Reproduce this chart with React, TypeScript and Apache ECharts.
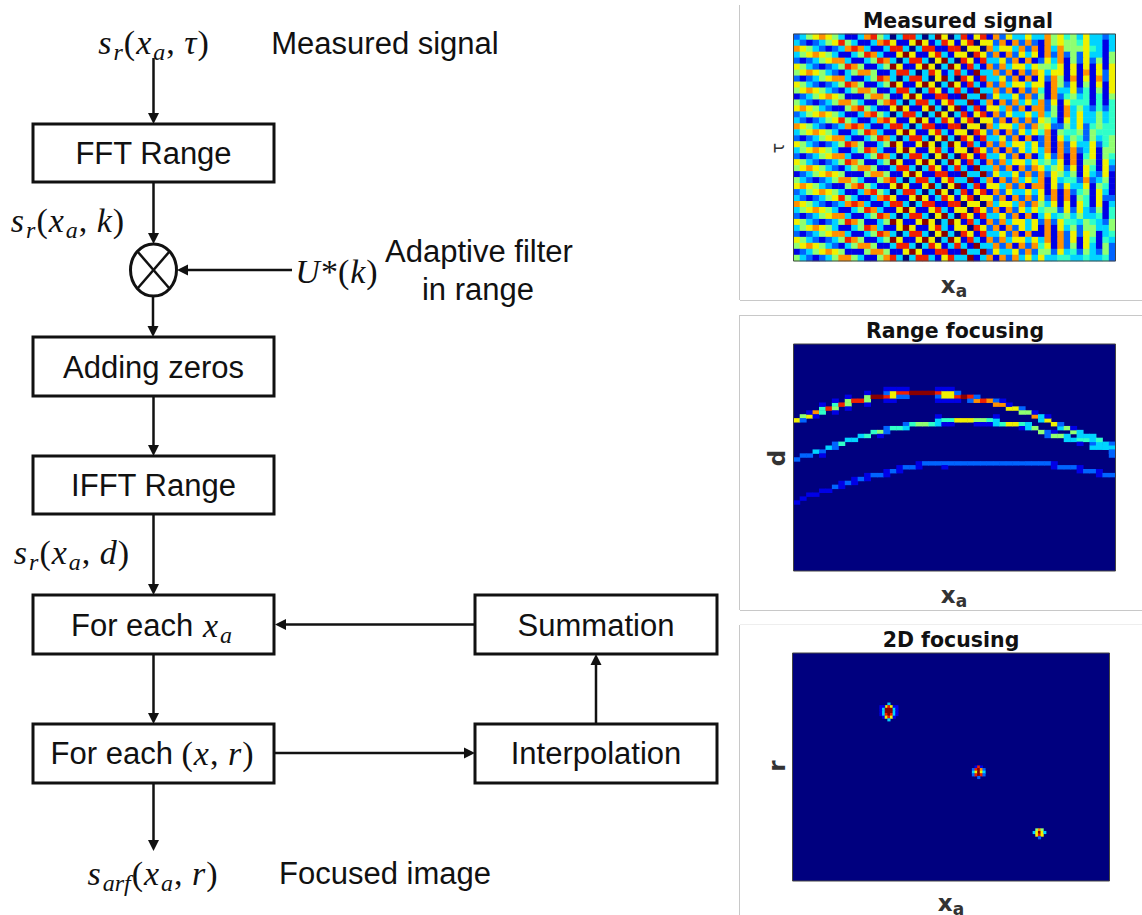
import React, { useEffect, useRef } from "react";
import * as echarts from "echarts";

const jetColors = ["#00007f", "#0000e6", "#0064ff", "#00d4ff", "#30ffc8", "#90ff70", "#f0f000", "#ff9000", "#f02000", "#8a0000"];

// Estimated jet level (0-9) per cell, one string per row, one digit per column
const measuredRows = [
  "23567653113785303883039603816817263363375645363323",
  "32123568531137861169613861680662717272175655463313",
  "76532123787311388303881188066073663727173755564313",
  "35676531135873116961168316608627172636172725263315",
  "21235677311358730388306930861833627171263715262515",
  "65321235875113596116960396183172736636554616161616",
  "56765321357751138830386138319337271727636616171626",
  "21235677311358730388306930861833627171627517161726",
  "65321235875113596116960396183172736636617526151616",
  "56765321357751138830386138319337271727417336241516",
  "12356765111577511696118811933926336272517245341415",
  "53212357753115783038831683391371727363726164441414",
  "67653211578531169611693069138166372717725173532424",
  "23567653113785303883039603816817263363735173633534",
  "32123568531137861169613861680662717272653163633534",
  "76532123787311388303881188066073663727562253624544",
  "35676531135873116961168316608627172636471544525444",
  "21235677311358730388306930861833627171271635425345",
  "65321235875113596116960396183172736636271726336245",
  "35676531135873116961168316608627172636371727236155",
  "21235677311358730388306930861833627171362717146154",
  "65321235875113596116960396183172736636453617155163",
  "56765321357751138830386138319337271727635626164162",
  "12356765111577511696118811933926336272726535163261",
  "53212357753115783038831683391371727363716344272351",
  "67653211578531169611693069138166372717716263361541",
  "23567653113785303883039603816817263363617172451631",
  "32123568531137861169613861680662717272627171541622",
  "76532123787311388303881188066073663727536161641613",
  "35676531135873116961168316608627172636455262632514",
  "21235677311358730388306930861833627171363453533414",
  "65321235875113596116960396183172736636272644354325",
  "35676531135873116961168316608627172636171635255335",
  "21235677311358730388306930861833627171171726265134",
  "65321235875113596116960396183172736636371726164143",
  "56765321357751138830386138319337271727461725163152",
  "12356765111577511696118811933926336272552634253252",
  "53212357753115783038831683391371727363633443343342",
];

// [column, row, level]
const rangeTopCurve = [
  [0,19,6],[1,18,5],[1,19,2],[2,18,6],[2,17,1],[3,17,7],[3,18,1],[4,16,4],[4,17,4],[4,15,1],[5,16,8],[6,15,4],[6,16,5],[6,14,1],[6,17,1],[7,15,8],
  [8,14,5],[8,15,5],[8,13,1],[8,16,1],[9,14,8],[10,14,8],[11,13,5],[11,14,5],[11,12,1],[11,15,1],[12,13,9],[13,13,9],[14,13,8],[14,12,2],[14,11,1],[14,14,1],
  [15,12,6],[15,13,6],[15,11,1],[15,14,1],[16,12,8],[16,13,2],[16,11,1],[17,12,8],[17,13,2],[17,11,1],[18,12,9],[19,12,9],[20,12,9],[21,12,9],
  [22,12,8],[22,13,2],[22,11,1],[22,14,1],[23,12,6],[23,13,6],[23,11,1],[23,14,1],[24,12,6],[24,13,6],[24,11,1],[24,14,1],[25,13,8],[25,12,2],[25,14,1],
  [26,13,9],[27,13,8],[27,14,2],[28,14,7],[28,13,2],[29,14,8],[30,14,7],[31,14,2],[31,15,7],[32,15,7],[32,14,1],[33,16,6],[33,15,1],[34,16,6],[35,16,2],[35,17,5],[36,17,5],
  [37,18,7],[37,17,1],[38,18,3],[38,19,3],[39,19,6],[39,18,1],[40,20,6],[41,21,3],[41,20,2],[42,21,5],[43,22,5],[43,21,1],[44,22,3],[44,23,3],[45,23,3],[46,23,3],[46,24,3],
  [47,24,4],[48,25,3],[48,26,3],[49,25,2],[49,26,3],[49,27,2],
];
const rangeMiddleCurve = [
  [0,29,2],[1,28,2],[2,28,2],[3,27,3],[4,27,2],[4,28,1],[5,26,3],[6,25,2],[6,26,2],[7,25,4],[8,24,3],[9,24,3],[10,23,3],[11,23,4],[12,22,4],[13,22,5],[13,23,1],
  [14,21,2],[14,22,2],[15,21,4],[16,21,4],[17,20,2],[17,21,3],[18,20,4],[19,20,5],[20,20,5],[21,20,4],[22,19,3],[22,20,3],[22,18,1],[23,19,4],[23,20,1],[24,19,4],[24,20,1],[25,19,6],
  [26,19,6],[27,19,6],[28,19,5],[28,20,1],[29,19,5],[29,20,1],[30,19,4],[30,20,1],[31,19,3],[31,20,3],[31,18,1],[32,20,4],[33,20,6],[34,20,6],[35,20,4],[35,21,1],[36,20,3],[36,21,3],
  [37,21,5],[38,22,5],[39,22,2],[39,23,2],[40,22,1],[40,23,5],[41,23,5],[42,23,3],[42,24,3],[43,24,3],[44,24,4],[44,25,1],[45,24,4],[46,25,2],[46,26,3],[47,25,3],[47,26,3],[48,26,3],[49,27,2],[49,28,2],
];
const rangeBottomCurve = [
  [0,40,1],[1,39,1],[2,38,1],[3,38,1],[4,37,1],[5,37,1],[6,36,2],[7,35,1],[7,36,1],[8,35,2],[9,34,1],[9,35,1],[10,34,2],[11,34,1],[11,33,1],[12,33,2],[13,33,2],[14,33,1],[14,32,1],
  [15,32,2],[16,32,1],[16,31,1],[17,31,2],[18,31,2],[19,31,1],[19,30,1],[20,30,2],[21,30,2],[22,30,2],[23,30,2],[23,31,1],[24,30,2],[25,30,2],[26,30,2],[27,30,2],[28,30,2],[29,30,2],
  [30,30,2],[31,30,2],[32,30,2],[33,30,2],[34,30,2],[35,30,2],[36,30,2],[37,30,2],[38,30,2],[39,30,2],[40,30,1],[40,31,1],[41,31,2],[42,31,2],[43,31,2],[44,31,1],[44,32,1],[45,32,2],[46,32,2],[47,32,1],[47,33,1],[48,33,2],[49,33,2],
];

const focusBlobA = [
  [36,19,3],[35,20,6],[36,20,8],[37,20,6],[33,20,1],[39,20,1],[34,20,1],[38,20,1],
  [33,21,1],[34,21,3],[35,21,9],[36,21,9],[37,21,9],[38,21,3],[39,21,1],
  [33,22,1],[34,22,3],[35,22,9],[36,22,9],[37,22,9],[38,22,3],[39,22,1],
  [33,23,1],[34,23,3],[35,23,8],[36,23,9],[37,23,8],[38,23,3],[39,23,1],
  [34,24,1],[35,24,6],[36,24,8],[37,24,6],[38,24,1],[36,25,3],
];
const focusBlobB = [
  [69,43,1],[70,43,8],[71,43,1],[68,44,2],[69,44,8],[70,44,9],[71,44,7],[72,44,2],[68,45,3],[69,45,6],[70,45,9],[71,45,6],[72,45,3],
  [68,46,2],[69,46,8],[70,46,9],[71,46,8],[72,46,2],[70,47,2],
];
const focusBlobC = [
  [92,67,5],[93,67,7],[94,67,5],[91,68,3],[92,68,6],[93,68,9],[94,68,6],[95,68,3],[92,69,6],[93,69,8],[94,69,6],[93,70,2],
];

const measuredCols = 50, measuredRowCount = measuredRows.length;
const rangeCols = 50, rangeRowCount = 58;
const focusCols = 120, focusRowCount = 87;

const panelTitles = ["Measured signal", "Range focusing", "2D focusing"];
const boxLabels = ["FFT Range", "Adding zeros", "IFFT Range", "Summation", "Interpolation"];

const measuredCells: number[][] = [];
measuredRows.forEach((row, r) => row.split("").forEach((d, c) => measuredCells.push([c, r, Number(d)])));

const seq = (n: number) => Array.from({ length: n }, (_, i) => String(i));

const SANS = '"Liberation Sans", Arial, sans-serif';
const SERIF = '"Liberation Serif", serif';
const DJ = '"DejaVu Sans", sans-serif';

const mathRich = {
  m: { fontFamily: SERIF, fontStyle: "italic", fontSize: 34, fill: "#111", lineHeight: 44, verticalAlign: "middle", padding: [0, 1, 0, 1] },
  p: { fontFamily: SERIF, fontSize: 34, fill: "#111", lineHeight: 44, verticalAlign: "middle" },
  u: { fontFamily: SERIF, fontStyle: "italic", fontSize: 24, fill: "#111", lineHeight: 32, verticalAlign: "bottom", padding: [0, 1, 0, 1] },
  t: { fontFamily: SANS, fontSize: 31, fill: "#111", lineHeight: 44, verticalAlign: "middle" },
};
const axRich = {
  x: { fontFamily: DJ, fontWeight: "bold", fontSize: 23, fill: "#333", lineHeight: 28, verticalAlign: "middle" },
  a: { fontFamily: DJ, fontWeight: "bold", fontSize: 17, fill: "#333", lineHeight: 22, verticalAlign: "bottom" },
};

function mathText(x: number, y: number, text: string, align = "center") {
  return { type: "text", x, y, silent: true, style: { text, x: 0, y: 0, align, verticalAlign: "middle", rich: mathRich } };
}
function plainText(x: number, y: number, text: string) {
  return { type: "text", x, y, silent: true, style: { text, align: "center", verticalAlign: "middle", fontFamily: SANS, fontSize: 31, fill: "#111" } };
}
function box(x: number, y: number, w: number, h: number) {
  return { type: "rect", shape: { x, y, width: w, height: h }, silent: true, style: { fill: "#fff", stroke: "#111", lineWidth: 3 } };
}
function arrow(x1: number, y1: number, x2: number, y2: number) {
  const len = Math.hypot(x2 - x1, y2 - y1), ux = (x2 - x1) / len, uy = (y2 - y1) / len;
  const bx = x2 - ux * 11, by = y2 - uy * 11;
  return [
    { type: "line", shape: { x1, y1, x2: bx, y2: by }, silent: true, style: { stroke: "#111", lineWidth: 2.5 } },
    { type: "polygon", shape: { points: [[x2, y2], [bx - uy * 5.5, by + ux * 5.5], [bx + uy * 5.5, by - ux * 5.5]] }, silent: true, style: { fill: "#111" } },
  ];
}
function frame(x: number, y: number, w: number, h: number) {
  return { type: "rect", z: 50, shape: { x, y, width: w, height: h }, silent: true, style: { fill: "none", stroke: "#444", lineWidth: 1 } };
}
function sep(x1: number, y1: number, x2: number, y2: number, stroke = "#c8c8c8") {
  return { type: "line", shape: { x1, y1, x2, y2 }, silent: true, style: { stroke, lineWidth: 1 } };
}
function panelTitle(x: number, y: number, text: string) {
  return { type: "text", x, y, silent: true, style: { text, align: "center", verticalAlign: "middle", fontFamily: DJ, fontWeight: "bold", fontSize: 20.5, fill: "#111" } };
}
function axisName(x: number, y: number, text: string, rotated = false, font = DJ, weight = "bold", size = 23) {
  return { type: "text", x, y, rotation: rotated ? Math.PI / 2 : 0, silent: true, style: { text, align: "center", verticalAlign: "middle", fontFamily: font, fontWeight: weight, fontSize: size, fill: "#333" } };
}
function xaLabel(x: number, y: number) {
  return { type: "text", x, y, silent: true, style: { text: "{x|x}{a|a}", align: "center", verticalAlign: "middle", rich: axRich } };
}

const grids = [
  { left: 793.5, top: 34, width: 322, height: 227 },
  { left: 793.5, top: 344, width: 322, height: 227 },
  { left: 792.5, top: 653, width: 317, height: 228 },
];

export default function App() {
  const ref = useRef<HTMLDivElement>(null);
  useEffect(() => {
    document.body.style.margin = "0";
    const chart = echarts.init(ref.current!, undefined, { renderer: "svg" });
    const dims = [[measuredCols, measuredRowCount], [rangeCols, rangeRowCount], [focusCols, focusRowCount]];
    const datas = [
      measuredCells,
      [...rangeBottomCurve, ...rangeMiddleCurve, ...rangeTopCurve],
      [...focusBlobA, ...focusBlobB, ...focusBlobC],
    ];
    const elements: any[] = [
      sep(739.5, 5, 739.5, 300), sep(740, 300.5, 1142, 300.5),
      sep(740, 315.5, 1142, 315.5), sep(739.5, 315, 739.5, 610), sep(740, 610.5, 1142, 610.5),
      sep(740, 624.5, 1142, 624.5, "#eeeeee"), sep(739.5, 625, 739.5, 915),
      ...arrow(153.5, 58, 153.5, 124),
      ...arrow(153.5, 182, 153.5, 244),
      ...arrow(292, 270, 177, 270),
      ...arrow(153, 296, 153, 337),
      ...arrow(153.5, 396, 153.5, 456),
      ...arrow(153.5, 514, 153.5, 595),
      ...arrow(153.5, 654, 153.5, 724),
      ...arrow(153.5, 783, 153.5, 851),
      ...arrow(475, 624.5, 275, 624.5),
      ...arrow(275, 753, 475, 753),
      ...arrow(596, 724, 596, 654),
      box(33, 124, 241, 58), box(33, 337, 241, 59), box(33, 456, 241, 58),
      box(33, 595, 241, 59), box(33, 724, 241, 59), box(475, 595, 242, 59), box(475, 724, 242, 59),
      { type: "ellipse", shape: { cx: 153.5, cy: 270, rx: 23, ry: 26 }, silent: true, style: { fill: "#fff", stroke: "#111", lineWidth: 3 } },
      { type: "line", shape: { x1: 137.5, y1: 251.5, x2: 169.5, y2: 288.5 }, silent: true, style: { stroke: "#111", lineWidth: 2.5 } },
      { type: "line", shape: { x1: 169.5, y1: 251.5, x2: 137.5, y2: 288.5 }, silent: true, style: { stroke: "#111", lineWidth: 2.5 } },
      plainText(153.5, 153, boxLabels[0]),
      plainText(153.5, 367, boxLabels[1]),
      plainText(153.5, 485, boxLabels[2]),
      plainText(596, 625, boxLabels[3]),
      plainText(596, 753, boxLabels[4]),
      plainText(385, 43, "Measured signal"),
      plainText(479, 251, "Adaptive filter"),
      plainText(478, 289, "in range"),
      plainText(385, 873, "Focused image"),
      mathText(153, 42, "{m|s}{u|r}{p|(}{m|x}{u|a}{p|, }{m|τ}{p|)}"),
      mathText(67, 220, "{m|s}{u|r}{p|(}{m|x}{u|a}{p|, }{m|k}{p|)}"),
      mathText(336, 271, "{m|U}{p|*(}{m|k}{p|)}"),
      mathText(71, 552, "{m|s}{u|r}{p|(}{m|x}{u|a}{p|, }{m|d}{p|)}"),
      mathText(152, 625, "{t|For each }{m|x}{u|a}"),
      mathText(152, 753, "{t|For each }{p|(}{m|x}{p|, }{m|r}{p|)}"),
      mathText(152, 873, "{m|s}{u|arf}{p|(}{m|x}{u|a}{p|, }{m|r}{p|)}"),
      panelTitle(958, 21, panelTitles[0]),
      panelTitle(955, 331, panelTitles[1]),
      panelTitle(951, 640, panelTitles[2]),
      axisName(778, 148, "τ", true, DJ, "normal", 17),
      axisName(777, 458, "d", true),
      axisName(777, 766, "r", true),
      xaLabel(954, 285), xaLabel(954, 595), xaLabel(951, 903),
      ...grids.map((g) => frame(g.left, g.top, g.width, g.height)),
    ];
    chart.setOption({
      animation: false,
      backgroundColor: "#ffffff",
      tooltip: { show: false },
      grid: grids.map((g, i) => ({ ...g, show: true, borderWidth: 0, backgroundColor: i === 0 ? "transparent" : jetColors[0] })),
      xAxis: grids.map((_, i) => ({ type: "category", gridIndex: i, data: seq(dims[i][0]), axisLine: { show: false }, axisTick: { show: false }, axisLabel: { show: false }, splitLine: { show: false } })),
      yAxis: grids.map((_, i) => ({ type: "category", gridIndex: i, inverse: true, data: seq(dims[i][1]), axisLine: { show: false }, axisTick: { show: false }, axisLabel: { show: false }, splitLine: { show: false } })),
      visualMap: { show: false, type: "continuous", min: 0, max: 9, seriesIndex: [0, 1, 2], inRange: { color: jetColors } },
      series: grids.map((_, i) => ({
        type: "heatmap", xAxisIndex: i, yAxisIndex: i, data: datas[i], progressive: 0, silent: true,
        itemStyle: { borderWidth: 0 }, emphasis: { disabled: true },
      })),
      graphic: { elements },
    });
    return () => chart.dispose();
  }, []);
  return <div ref={ref} style={{ position: "absolute", left: 0, top: 0, width: 1142, height: 915 }} />;
}
